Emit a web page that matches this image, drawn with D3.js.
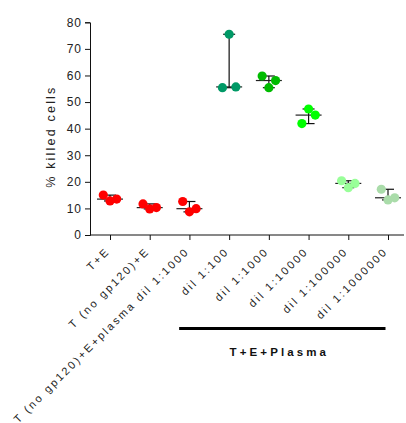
<!DOCTYPE html>
<html>
<head>
<meta charset="utf-8">
<script src="https://cdn.jsdelivr.net/npm/d3@7"></script>
<style>
  body { margin: 0; background: #fff; }
  text { font-family: "Liberation Sans", Arial, sans-serif; fill: #222; }
</style>
</head>
<body>
<div id="content"></div>
<script>
// data
const groups = ['T+E', 'T (no gp120)+E', 'T (no gp120)+E+plasma dil 1:1000',
  'dil 1:100', 'dil 1:1000', 'dil 1:10000', 'dil 1:100000', 'dil 1:1000000'];
const replicates = [
  [15.0, 12.8, 13.5],
  [11.7, 9.8, 10.3],
  [12.6, 8.7, 9.9],
  [55.4, 75.5, 55.7],
  [59.8, 55.4, 58.1],
  [41.9, 47.4, 45.1],
  [20.4, 17.8, 19.4],
  [17.2, 13.2, 14.0],
];
const colors = ['#ff0000', '#ff0000', '#ff0000', '#009966', '#00bb00', '#00ff00', '#99ff99', '#aadcaa'];
const yTicks = [0, 10, 20, 30, 40, 50, 60, 70, 80];
const bracketGroups = ['dil 1:100', 'dil 1:1000000'];
const bracketLabel = 'T+E+Plasma';

const W = 406, H = 423;
const m = { left: 90, top: 22, right: 2, bottom: 188 };

const svg = d3.select('#content').append('svg')
  .attr('width', W).attr('height', H);

const x = d3.scalePoint().domain(groups)
  .range([110, 388]);
const y = d3.scaleLinear().domain([0, 80]).range([235, 22.3]);

// axes
const yAxis = svg.append('g').attr('transform', `translate(${m.left},0)`)
  .call(d3.axisLeft(y).tickValues(yTicks).tickSize(5).tickPadding(4));
yAxis.selectAll('text').style('font-size', '12px').style('letter-spacing', '1px')
  .attr('dx', '1px');

const xAxis = svg.append('g').attr('transform', `translate(0,${y(0)})`)
  .call(d3.axisBottom(x).tickSize(5).tickFormat(''));
xAxis.select('.domain').attr('d', `M${m.left},0H404`);
svg.selectAll('.domain, .tick line').attr('stroke', '#111');

xAxis.selectAll('.tick').append('text')
  .attr('transform', 'translate(0,17) rotate(-45)')
  .attr('text-anchor', 'end')
  .style('font-size', '11px')
  .style('letter-spacing', '2.3px')
  .style('fill', '#222')
  .text(d => d);

svg.append('text')
  .attr('transform', `translate(55,${(y(0) + y(80)) / 2 + 8}) rotate(-90)`)
  .attr('text-anchor', 'middle')
  .style('font-size', '12.5px')
  .style('letter-spacing', '2.2px')
  .text('% killed cells');

// median + range bars
const off = [-6.7, 0, 6.7];
const gG = svg.append('g').selectAll('g').data(groups).join('g')
  .attr('transform', d => `translate(${x(d)},0)`);

gG.each(function(d, i) {
  const g = d3.select(this);
  const vals = replicates[i];
  const med = d3.median(vals), lo = d3.min(vals), hi = d3.max(vals);
  g.append('line').attr('x1', 0).attr('x2', 0).attr('y1', y(lo)).attr('y2', y(hi))
    .attr('stroke', '#111').attr('stroke-width', 1.2);
  [lo, hi].forEach(v => g.append('line').attr('x1', -6).attr('x2', 6)
    .attr('y1', y(v)).attr('y2', y(v)).attr('stroke', '#111').attr('stroke-width', 1.2));
  g.append('line').attr('x1', -13).attr('x2', 13).attr('y1', y(med)).attr('y2', y(med))
    .attr('stroke', '#222').attr('stroke-width', 1.2);
  g.selectAll('circle').data(vals).join('circle')
    .attr('cx', (v, j) => off[j])
    .attr('cy', v => y(v))
    .attr('r', 4.6)
    .attr('fill', colors[i]);
});

// bracket under the plasma groups
const bx0 = x(bracketGroups[0]) - 50, bx1 = x(bracketGroups[1]) - 2.5;
svg.append('line').attr('x1', bx0).attr('x2', bx1).attr('y1', 328.5).attr('y2', 328.5)
  .attr('stroke', '#000').attr('stroke-width', 3);
svg.append('text')
  .attr('x', (bx0 + bx1) / 2 - 3).attr('y', 356)
  .attr('text-anchor', 'middle')
  .style('font-size', '11.5px').style('font-weight', 'bold')
  .style('letter-spacing', '3.1px')
  .style('fill', '#111')
  .text(bracketLabel);
</script>
</body>
</html>
